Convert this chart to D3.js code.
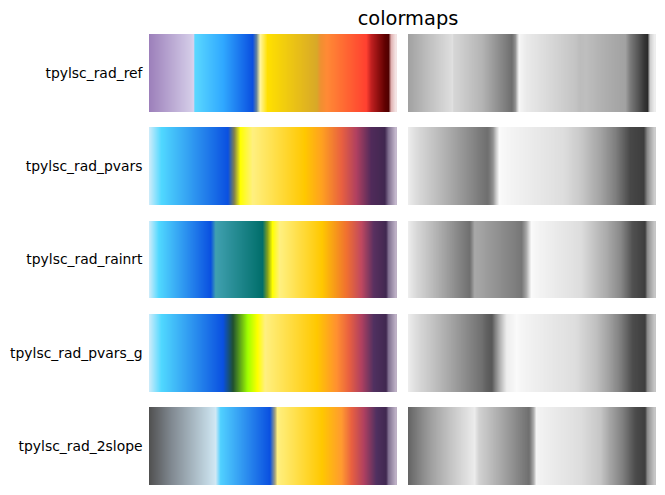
<!DOCTYPE html>
<html><head><meta charset="utf-8">
<script src="https://cdn.jsdelivr.net/npm/d3@7"></script>
<style>body{margin:0;background:#fff}svg{display:block}</style>
</head><body>
<script>
const title = "colormaps";
const names = ["tpylsc_rad_ref","tpylsc_rad_pvars","tpylsc_rad_rainrt","tpylsc_rad_pvars_g","tpylsc_rad_2slope"];

const refPos = [0,0.17,0.18,0.186,0.30,0.42,0.435,0.45,0.48,0.68,0.695,0.72,0.88,0.90,0.955,0.97,0.98,1];
const refCol = ["#9c7fba","#d3cbe7","#d8d2ee","#5ad8ff","#30a8ff","#0a4fe0","#6080a0","#fff5a0","#ffe000","#d8a828","#f09030","#ff8a35","#ff4030","#c02020","#600000","#500000","#e0b0b0","#f5e8e8"];

const pvarsPos = [0,0.05,0.32,0.345,0.37,0.42,0.63,0.70,0.78,0.84,0.90,0.955,0.97,1];
const pvarsCol = ["#d0ecfa","#50d8ff","#0a50e0","#808050","#ffff00","#fff080","#ffc800","#ffa020","#e86040","#b04060","#502a5a","#402850","#807090","#c8bcd0"];

const rainPos = [0,0.04,0.25,0.27,0.46,0.48,0.50,0.53,0.70,0.80,0.86,0.91,0.96,0.97,1];
const rainCol = ["#d0ecfa","#50d8ff","#0a50e0","#40a0b0","#006e6a","#80a020","#ffff00","#fff080","#ffc800","#f07030","#c04860","#5a3060","#402850","#807090","#c0b4c8"];

const pvgPos = [0,0.05,0.30,0.34,0.40,0.44,0.47,0.68,0.76,0.81,0.86,0.91,0.96,0.97,1];
const pvgCol = ["#d0ecfa","#50d8ff","#0a50e0","#205030","#a0ff00","#ffff00","#fff080","#ffc800","#ff9030","#e86040","#b04060","#503060","#402850","#807090","#c0b4c8"];

const slopePos = [0,0.09,0.27,0.29,0.49,0.51,0.52,0.70,0.78,0.82,0.87,0.92,0.96,0.97,1];
const slopeCol = ["#505050","#808890","#d0e8f4","#50d0ff","#0a50e0","#a0a080","#fff080","#ffc800","#ff9a30","#e86040","#b04060","#503060","#402850","#807090","#c0b4c8"];

const maps = [[refPos,refCol],[pvarsPos,pvarsCol],[rainPos,rainCol],[pvgPos,pvgCol],[slopePos,slopeCol]];

const W = 665, H = 495;
const svg = d3.select("body").append("svg").attr("width",W).attr("height",H);

const rowScale = d3.scaleBand().domain(names).range([34, 485]).paddingInner(0.165).paddingOuter(0);
const leftX = d3.scaleLinear().domain([0,1]).range([149, 396]);
const rightX = d3.scaleLinear().domain([0,1]).range([408, 655]);
const grayScale = d3.scaleLinear().domain([0,100]).range([0,255]).clamp(true);
const N = 247;
const samples = d3.range(N).map(i => (i + 0.5) / N);

// approximate perceptual lightness (CAM02-UCS-like) from CIELAB L*
function lightness(c) {
  const L = d3.lab(c).l;
  return L + 5.5 * L * (100 - L) / 2500;
}
function grayOf(c) {
  const v = Math.round(grayScale(lightness(c)));
  return d3.rgb(v, v, v).formatHex();
}

svg.append("text").attr("x", 408).attr("y", 25)
  .attr("text-anchor","middle").attr("font-family","DejaVu Sans").attr("font-size",19.4)
  .attr("fill","#000").text(title);

maps.forEach(([pos, col], k) => {
  const cs = d3.scaleLinear().domain(pos).range(col).interpolate(d3.interpolateRgb).clamp(true);
  const y0 = rowScale(names[k]), h = rowScale.bandwidth();
  const g = svg.append("g");
  g.selectAll("rect.c").data(samples).join("rect").attr("class","c")
    .attr("x", t => leftX(t - 0.5/N)).attr("width", leftX(1/N) - leftX(0) + 0.6)
    .attr("y", y0).attr("height", h).attr("fill", t => cs(t))
    .attr("shape-rendering","crispEdges");
  g.selectAll("rect.g").data(samples).join("rect").attr("class","g")
    .attr("x", t => rightX(t - 0.5/N)).attr("width", rightX(1/N) - rightX(0) + 0.6)
    .attr("y", y0).attr("height", h)
    .attr("fill", t => grayOf(cs(t)))
    .attr("shape-rendering","crispEdges");
  svg.append("text").attr("x", 142.5).attr("y", y0 + h/2)
    .attr("dy","0.35em").attr("text-anchor","end")
    .attr("font-family","DejaVu Sans").attr("font-size",13.9).attr("fill","#000")
    .text(names[k]);
});
</script>
</body></html>
